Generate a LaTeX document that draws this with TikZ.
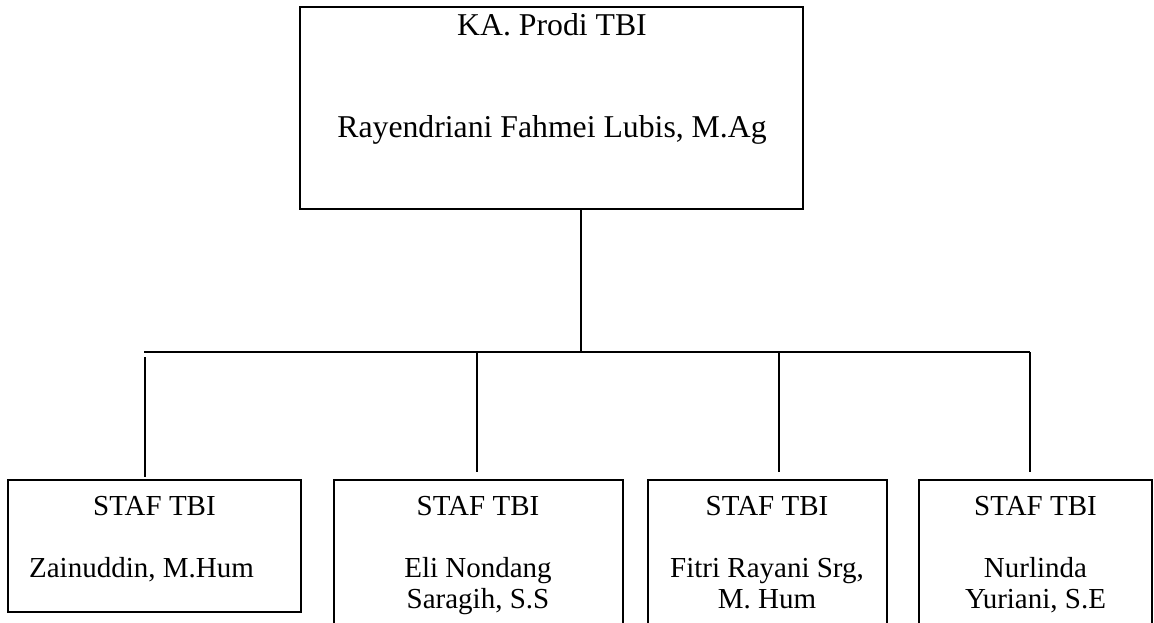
\documentclass[tikz,border=0pt]{standalone}
\usepackage{fontspec}
\setmainfont{Liberation Serif}
\usepackage{tikz}

\tikzset{
  kotak/.style={draw,line width=1.3pt,inner sep=0pt},
  garis/.style={line width=1.1pt},
  judul/.style={anchor=base,font=\fontsize{23.8}{26}\selectfont},
  nama/.style={anchor=base,align=center,font=\fontsize{21.75}{23.25}\selectfont},
}

\begin{document}
\begin{tikzpicture}[x=0.75pt,y=-0.75pt]
\useasboundingbox (0,0) rectangle (1154,622);
\clip (0,0) rectangle (1154,622);
\node[kotak,minimum width=377.25pt,minimum height=151.5pt] (ka) at (551.5,108) {};
\node[kotak,minimum width=219.75pt,minimum height=99pt] (s1) at (154.5,546) {};
\node[kotak,minimum width=216.75pt,minimum height=127.5pt] (s2) at (478.5,565) {};
\node[kotak,minimum width=179.25pt,minimum height=127.5pt] (s3) at (767.5,565) {};
\node[kotak,minimum width=174.75pt,minimum height=127.5pt] (s4) at (1035.5,565) {};
\node[judul] (kaj) at (552,35) {KA. Prodi TBI};
\node[judul] (kan) at (552,137) {Rayendriani Fahmei Lubis, M.Ag};
\node[nama] (s1j) at (154.5,515) {STAF TBI};
\node[nama] (s1n) at (141.5,577) {Zainuddin, M.Hum};
\node[nama] (s2j) at (478,515) {STAF TBI};
\node[nama] (s2n) at (478,608) {Eli Nondang\\Saragih, S.S};
\node[nama] (s3j) at (767,515) {STAF TBI};
\node[nama] (s3n) at (767,608) {Fitri Rayani Srg,\\M. Hum};
\node[nama] (s4j) at (1035.5,515) {STAF TBI};
\node[nama] (s4n) at (1035.5,608) {Nurlinda\\Yuriani, S.E};
\coordinate (bus) at (581,352);
\coordinate (b1) at (144,352);
\coordinate (t1) at (145,357);
\coordinate (b2) at (477,352);
\coordinate (b3) at (779,352);
\coordinate (b4) at (1030,352);
\draw[garis] (ka.south -| bus) -- (bus);
\draw[garis] (b1) -- (b4);
\draw[garis,shorten >=1.5pt] (t1) -- (t1 |- s1.north);
\draw[garis,shorten >=5.25pt] (b2) -- (b2 |- s2.north);
\draw[garis,shorten >=5.25pt] (b3) -- (b3 |- s3.north);
\draw[garis,shorten >=5.25pt] (b4) -- (b4 |- s4.north);
\end{tikzpicture}
\end{document}
